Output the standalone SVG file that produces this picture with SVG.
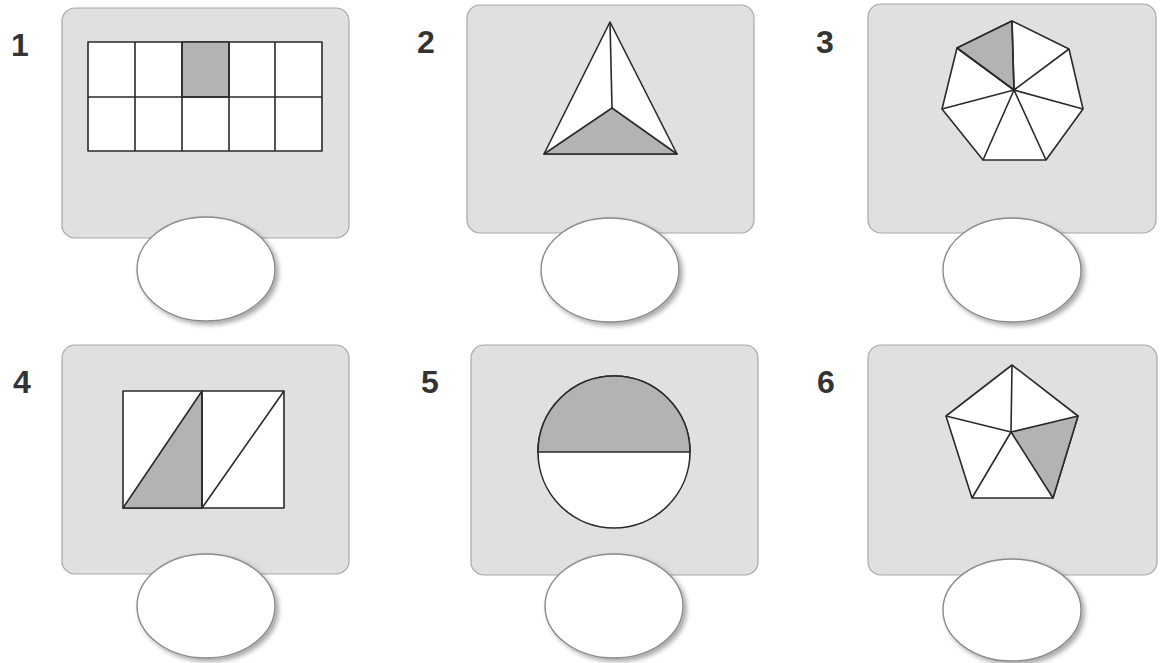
<svg xmlns="http://www.w3.org/2000/svg" width="1160" height="663" viewBox="0 0 1160 663">
<defs>
<style>
.panel{fill:#e0e0e0;stroke:#a8a8a8;stroke-width:1.2}
.shape{fill:#ffffff;stroke:#2a2a2a;stroke-width:1.6;stroke-linejoin:round}
.shade{fill:#b3b3b3;stroke:#2a2a2a;stroke-width:1.6;stroke-linejoin:round}
.line{fill:none;stroke:#2a2a2a;stroke-width:1.6}
.oval{fill:#ffffff;stroke:#8a8a8a;stroke-width:1.4}
.num{font-family:"Liberation Sans",Arial,sans-serif;font-weight:bold;font-size:32px;fill:#333333}
</style>
<filter id="sh" x="-20%" y="-20%" width="150%" height="150%">
<feGaussianBlur in="SourceAlpha" stdDeviation="2.5"/>
<feOffset dx="3" dy="3" result="b"/>
<feComponentTransfer><feFuncA type="linear" slope="0.35"/></feComponentTransfer>
<feMerge><feMergeNode/><feMergeNode in="SourceGraphic"/></feMerge>
</filter>
</defs>
<rect width="1160" height="663" fill="#ffffff"/>

<g id="item1">
<text class="num" x="20" y="56" text-anchor="middle">1</text>
<rect class="panel" x="62" y="8" width="287" height="230" rx="13"/>
<rect class="shape" x="88" y="42" width="234" height="109"/>
<rect class="shade" x="182" y="42" width="47" height="55"/>
<path class="line" d="M88 97H322M135 42V151M182 42V151M229 42V151M275 42V151"/>
<ellipse class="oval" cx="206" cy="269" rx="69" ry="52" filter="url(#sh)"/>
</g>

<g id="item2">
<text class="num" x="426" y="53" text-anchor="middle">2</text>
<rect class="panel" x="467" y="5" width="287" height="228" rx="13"/>
<polygon class="shape" points="610,22 677,154 544,154"/>
<polygon class="shade" points="544,154 612,108 677,154"/>
<path class="line" d="M610 22L612 108"/>
<ellipse class="oval" cx="610" cy="270" rx="69" ry="52" filter="url(#sh)"/>
</g>

<g id="item3">
<text class="num" x="825" y="53" text-anchor="middle">3</text>
<rect class="panel" x="868" y="4" width="288" height="229" rx="13"/>
<polygon class="shape" points="1012,21 1069,49 1083,109 1046,160 983,160 942,109 957,48"/>
<polygon class="shade" points="1012,21 957,48 1014,90"/>
<path class="line" d="M1014 90L1012 21M1014 90L1069 49M1014 90L1083 109M1014 90L1046 160M1014 90L983 160M1014 90L942 109M1014 90L957 48"/>
<ellipse class="oval" cx="1012" cy="270" rx="69" ry="52" filter="url(#sh)"/>
</g>

<g id="item4">
<text class="num" x="22" y="393" text-anchor="middle">4</text>
<rect class="panel" x="62" y="345" width="287" height="229" rx="13"/>
<rect class="shape" x="123" y="391" width="161" height="117"/>
<polygon class="shade" points="123,508 202,391 202,508"/>
<path class="line" d="M202 391V508M202 508L284 391"/>
<ellipse class="oval" cx="206" cy="606" rx="69" ry="52" filter="url(#sh)"/>
</g>

<g id="item5">
<text class="num" x="430" y="393" text-anchor="middle">5</text>
<rect class="panel" x="471" y="345" width="287" height="230" rx="13"/>
<circle class="shape" cx="614" cy="452" r="76"/>
<path class="shade" d="M538 452A76 76 0 0 1 690 452Z"/>
<ellipse class="oval" cx="614" cy="606" rx="69" ry="52" filter="url(#sh)"/>
</g>

<g id="item6">
<text class="num" x="826" y="393" text-anchor="middle">6</text>
<rect class="panel" x="868" y="345" width="289" height="230" rx="13"/>
<polygon class="shape" points="1012,365 1078,416 1053,498 972,498 946,416"/>
<polygon class="shade" points="1011,432 1078,416 1053,498"/>
<path class="line" d="M1011 432L1012 365M1011 432L946 416M1011 432L972 498"/>
<ellipse class="oval" cx="1012" cy="610" rx="69" ry="51" filter="url(#sh)"/>
</g>

<g id="connectors"></g>
</svg>
